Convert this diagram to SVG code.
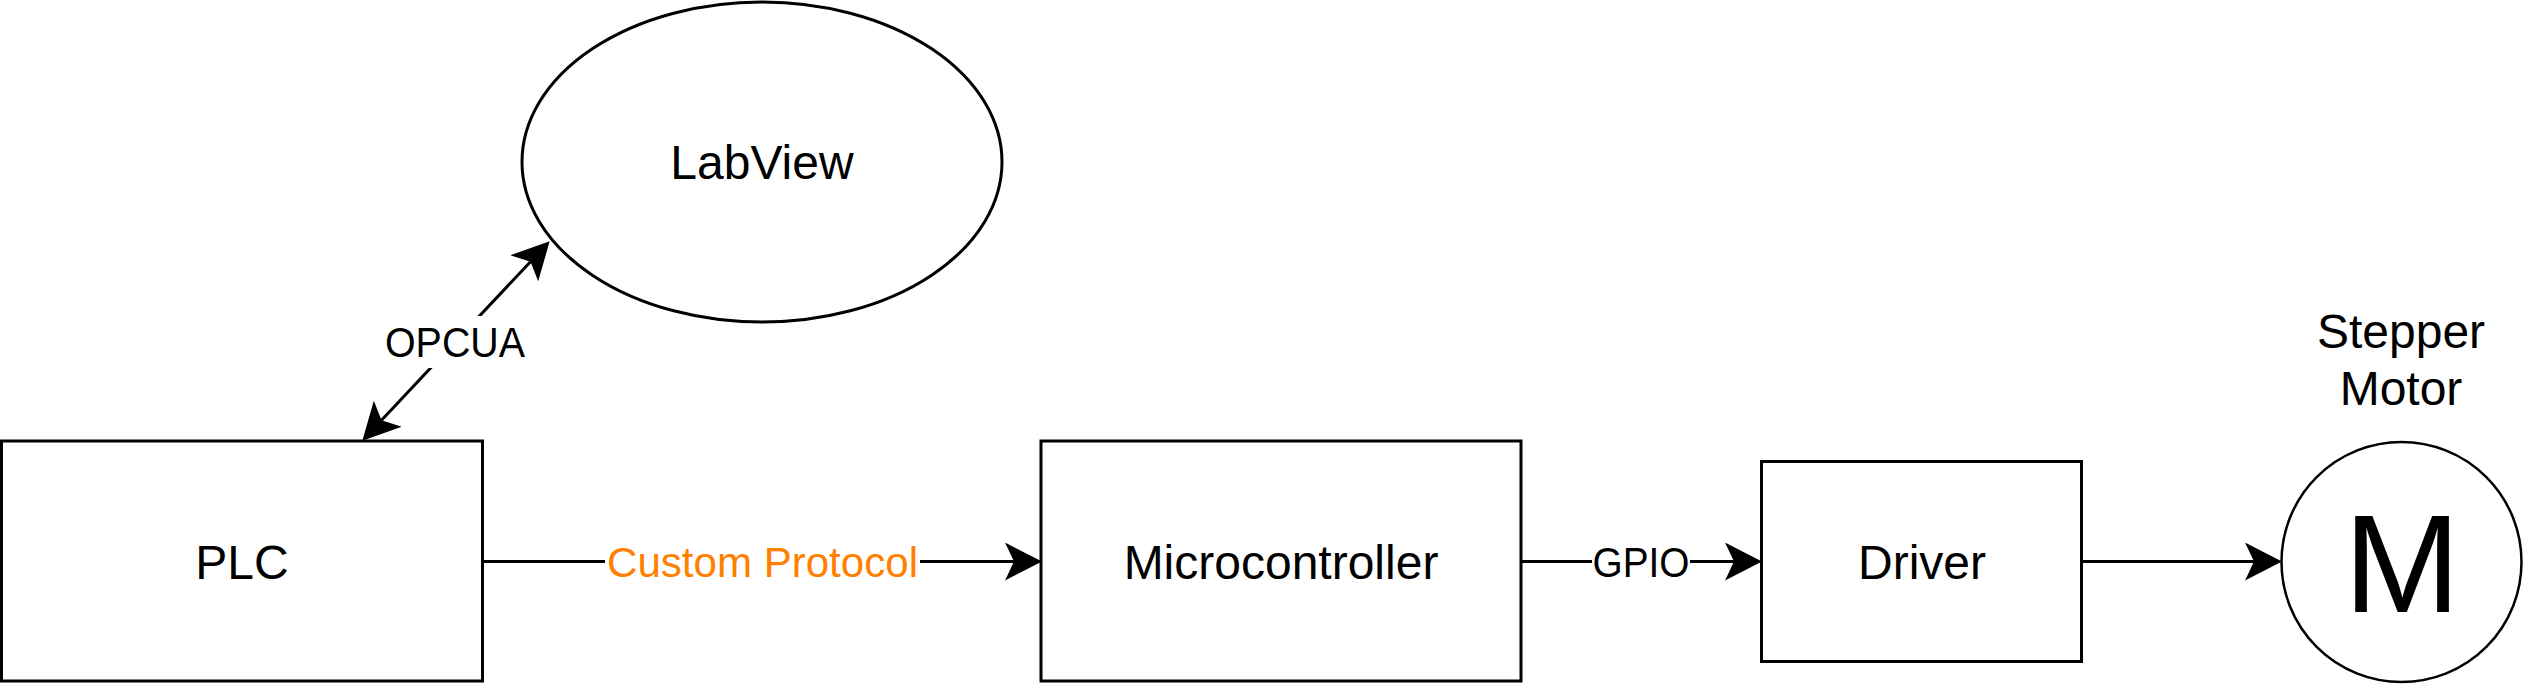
<svg xmlns="http://www.w3.org/2000/svg" width="2524" height="684" viewBox="0 0 2524 684">
<style>
.shape{fill:#fff;stroke:#000;stroke-width:3}
.t{font-family:"Liberation Sans",Arial,Helvetica,sans-serif;font-size:48px;fill:#000;text-anchor:middle}
.el{font-family:"Liberation Sans",Arial,Helvetica,sans-serif;font-size:42px;fill:#000;text-anchor:middle}
.orange{fill:#FF8000}
.edge{fill:none;stroke:#000;stroke-width:3}
.lblbg{fill:#fff;stroke:none}
</style>
<defs>
<marker id="arr" viewBox="0 0 37 38" refX="9" refY="19" markerWidth="37" markerHeight="38" markerUnits="userSpaceOnUse" orient="auto-start-reverse">
<path d="M37,19 L0,0 L9,19 L0,38 Z" fill="#000"/>
</marker>
</defs>
<rect width="2524" height="684" fill="#fff"/>
<g id="connectors">
<path class="edge" d="M381.5,420.3 L530.5,261.7" marker-start="url(#arr)" marker-end="url(#arr)"/>
<rect class="lblbg" x="382" y="316" width="142" height="52"/>
<text class="el" x="455" y="357" textLength="140" lengthAdjust="spacingAndGlyphs">OPCUA</text>
<path class="edge" d="M483,561.5 L1014,561.5" marker-end="url(#arr)"/>
<rect class="lblbg" x="605" y="536" width="315" height="52"/>
<text class="el orange" x="762.5" y="577" textLength="311" lengthAdjust="spacingAndGlyphs">Custom Protocol</text>
<path class="edge" d="M1521,561.5 L1734,561.5" marker-end="url(#arr)"/>
<rect class="lblbg" x="1592" y="536" width="98" height="52"/>
<text class="el" x="1641" y="577" textLength="97" lengthAdjust="spacingAndGlyphs">GPIO</text>
<path class="edge" d="M2082,561.5 L2254,561.5" marker-end="url(#arr)"/>
</g>
<g id="labview">
<ellipse class="shape" cx="762" cy="162" rx="240" ry="160"/>
<text class="t" x="762" y="179">LabView</text>
</g>
<g id="plc">
<rect class="shape" x="1.5" y="441" width="481" height="240"/>
<text class="t" x="242" y="578.5">PLC</text>
</g>
<g id="microcontroller">
<rect class="shape" x="1041" y="441" width="480" height="240"/>
<text class="t" x="1281" y="578.5">Microcontroller</text>
</g>
<g id="driver">
<rect class="shape" x="1761.5" y="461.5" width="320" height="200"/>
<text class="t" x="1922" y="578.5">Driver</text>
</g>
<g id="motor">
<circle cx="2401.5" cy="562" r="120" fill="#fff" stroke="#000" stroke-width="2.5"/>
<text class="t" x="2402" y="612" style="font-size:140px">M</text>
<text class="t" x="2401" y="348">Stepper</text>
<text class="t" x="2401" y="405">Motor</text>
</g>
</svg>
